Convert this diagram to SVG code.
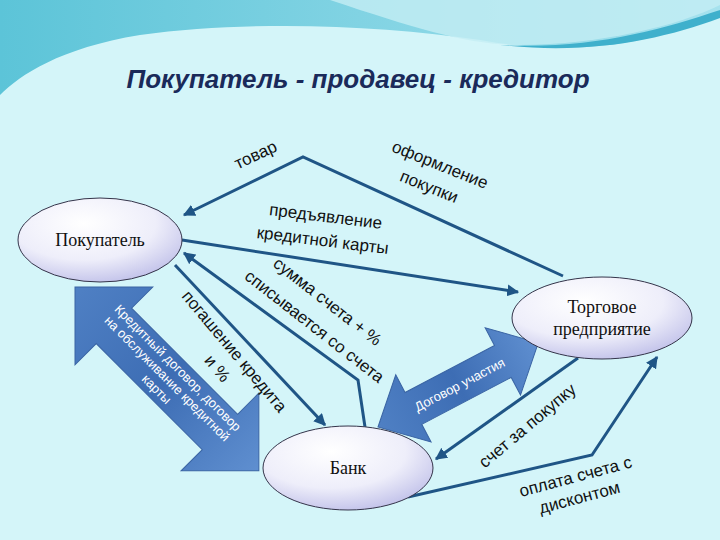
<svg xmlns="http://www.w3.org/2000/svg" width="720" height="540" viewBox="0 0 720 540">
<defs>
<linearGradient id="bg" x1="0" y1="0" x2="1" y2="0"><stop offset="0" stop-color="#5cc4d8"/><stop offset="1" stop-color="#a6e2ee"/></linearGradient>
<radialGradient id="node" cx="0.4" cy="0.3" r="0.8"><stop offset="0" stop-color="#ffffff"/><stop offset="0.55" stop-color="#eeeefa"/><stop offset="1" stop-color="#b8b8e6"/></radialGradient>
<linearGradient id="blk" x1="0" y1="0" x2="1" y2="0"><stop offset="0" stop-color="#4f80c4"/><stop offset="0.5" stop-color="#3d6db4"/><stop offset="1" stop-color="#5f8fd0"/></linearGradient>
<marker id="ah" viewBox="0 0 10 10" refX="9" refY="5" markerWidth="4" markerHeight="4" orient="auto"><path d="M0,0 L10,5 L0,10 Z" fill="#1f5586"/></marker>
<style>
.c{fill:none;stroke:#1f5586;stroke-width:3;marker-end:url(#ah)}
.n{fill:url(#node);stroke:#34344a;stroke-width:1}
.nt{font-family:"Liberation Serif",serif;font-size:18px;fill:#111;text-anchor:middle}
.l{font-family:"Liberation Sans",sans-serif;font-size:17px;fill:#111;text-anchor:middle}
.w{font-family:"Liberation Sans",sans-serif;font-size:13px;fill:#fff;text-anchor:middle}
.b{fill:url(#blk);stroke:#3a64a4;stroke-width:1}
</style>
</defs>
<rect width="720" height="540" fill="#d4f5f9"/>
<path d="M0,0 H720 V10 C650,50 560,55 480,40 C380,25 250,20 140,35 C60,48 20,75 0,95 Z" fill="url(#bg)"/>
<path d="M330,0 C420,30 470,45 520,45 C600,45 680,25 720,5 V0 Z" fill="#c4eef4" opacity="0.8"/>
<path d="M500,45 C590,50 660,30 720,10 V18 C660,40 590,55 500,45 Z" fill="#3fb0cc"/>
<text x="358" y="88" font-family="Liberation Sans,sans-serif" font-size="26" font-weight="bold" font-style="italic" fill="#1a2a5a" text-anchor="middle">Покупатель - продавец - кредитор</text>

<g id="blockarrows">
<g transform="translate(75,287) rotate(45)">
<polygon class="b" points="0,0 55,-55 55,-25 205,-25 205,-55 260,0 205,55 205,25 55,25 55,55"/>
<text class="w" x="130" y="-11">Кредитный договор, договор</text>
<text class="w" x="130" y="4">на обслуживание кредитной</text>
<text class="w" x="130" y="19">карты</text>
</g>
<g transform="translate(378,427) rotate(-27.7)">
<polygon class="b" points="0,0 40,-38 40,-18 141,-18 141,-38 181,0 141,38 141,18 40,18 40,38"/>
<text class="w" x="92" y="5">Договор участия</text>
</g>
</g>

<g id="connectors">
<polyline class="c" points="563,276 303,157 184,215"/>
<line class="c" x1="182" y1="240" x2="518" y2="292"/>
<polyline class="c" points="365,427 358,380 184,253"/>
<line class="c" x1="175" y1="265" x2="325" y2="425"/>
<line class="c" x1="578" y1="358" x2="436" y2="459"/>
<polyline class="c" points="408,497 592,455 657,357"/>
</g>

<g id="labels">
<text class="l" transform="translate(258,160) rotate(-25)">товар</text>
<text class="l" transform="translate(438,170) rotate(22)">оформление</text>
<text class="l" transform="translate(427,192) rotate(22)">покупки</text>
<text class="l" transform="translate(325,222) rotate(7)">предъявление</text>
<text class="l" transform="translate(322,246) rotate(7)">кредитной карты</text>
<text class="l" transform="translate(324,306) rotate(38)">сумма счета + %</text>
<text class="l" transform="translate(311,331) rotate(38)">списывается со счета</text>
<text class="l" transform="translate(230,355) rotate(50)">погашение кредита</text>
<text class="l" transform="translate(213,372) rotate(50)">и %</text>
<text class="l" transform="translate(531,430) rotate(-40)">счет за покупку</text>
<text class="l" transform="translate(577,482) rotate(-15)">оплата счета с</text>
<text class="l" transform="translate(581,503) rotate(-15)">дисконтом</text>
</g>

<g id="pokupatel"><ellipse class="n" cx="100" cy="240" rx="82" ry="42"/><text class="nt" x="100" y="246">Покупатель</text></g>
<g id="torgovoe"><ellipse class="n" cx="602" cy="318" rx="90" ry="41"/><text class="nt" x="602" y="313">Торговое</text><text class="nt" x="602" y="335">предприятие</text></g>
<g id="bank"><ellipse class="n" cx="348" cy="468" rx="85" ry="42"/><text class="nt" x="348" y="474">Банк</text></g>
</svg>
